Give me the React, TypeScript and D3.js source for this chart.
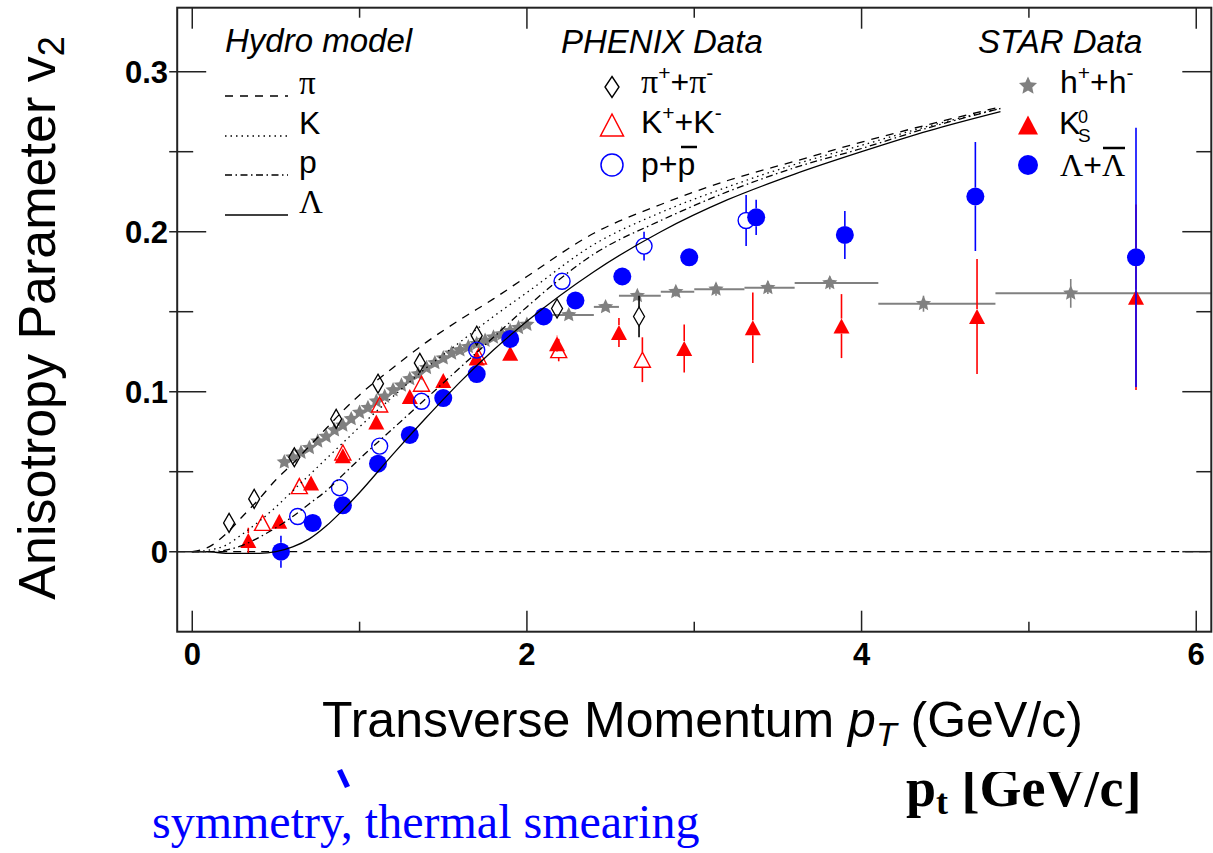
import React from "react";
import * as d3 from "d3";

// ---------- Hydro model curves ----------
const HYDRO_PT = [0, 0.1, 0.2, 0.3, 0.4, 0.5, 0.6, 0.7, 0.8, 0.9, 1.0, 1.2, 1.4, 1.6, 1.8, 2.0, 2.4, 2.8, 3.2, 3.6, 4.0, 4.4, 4.83];
const HYDRO_PI = [0, 0.003, 0.011, 0.022, 0.033, 0.045, 0.055, 0.066, 0.077, 0.088, 0.098, 0.115, 0.131, 0.145, 0.158, 0.172, 0.199, 0.217, 0.232, 0.244, 0.256, 0.267, 0.278];
const HYDRO_K = [0, 0.001, 0.004, 0.011, 0.019, 0.028, 0.038, 0.048, 0.058, 0.068, 0.078, 0.097, 0.115, 0.131, 0.147, 0.162, 0.192, 0.212, 0.228, 0.242, 0.254, 0.266, 0.277];
const HYDRO_P = [0, 0.0, 0.001, 0.004, 0.009, 0.015, 0.022, 0.030, 0.038, 0.048, 0.058, 0.077, 0.096, 0.115, 0.134, 0.153, 0.186, 0.207, 0.225, 0.240, 0.252, 0.265, 0.277];
const HYDRO_L = [0, 0.0, -0.001, -0.001, -0.001, 0.0, 0.003, 0.008, 0.016, 0.026, 0.037, 0.061, 0.084, 0.106, 0.126, 0.144, 0.175, 0.200, 0.220, 0.236, 0.250, 0.263, 0.275];

// ---------- PHENIX data ----------
const PHX_PI_PT = [0.22, 0.37, 0.61, 0.86, 1.11, 1.36, 1.70, 2.18, 2.67];
const PHX_PI_V2 = [0.018, 0.033, 0.059, 0.083, 0.105, 0.118, 0.135, 0.152, 0.147];
const PHX_PI_ERR = [0, 0, 0, 0, 0, 0.002, 0.003, 0.005, 0.013];

const PHX_K_PT = [0.42, 0.64, 0.90, 1.12, 1.37, 1.71, 2.19, 2.69];
const PHX_K_V2 = [0.018, 0.041, 0.062, 0.092, 0.105, 0.122, 0.126, 0.120];
const PHX_K_ERR = [0, 0, 0, 0.002, 0.003, 0.004, 0.007, 0.014];

const PHX_P_PT = [0.63, 0.88, 1.12, 1.37, 1.70, 2.21, 2.70, 3.31];
const PHX_P_V2 = [0.022, 0.040, 0.066, 0.094, 0.126, 0.169, 0.191, 0.207];
const PHX_P_ERR = [0, 0, 0, 0.002, 0.003, 0.005, 0.009, 0.016];

// ---------- STAR data ----------
const STAR_H_PT = [0.55, 0.60, 0.65, 0.70, 0.75, 0.80, 0.85, 0.90, 0.95, 1.00, 1.05, 1.10, 1.15, 1.20, 1.25, 1.30, 1.35, 1.40, 1.45, 1.50, 1.55, 1.60, 1.65, 1.70, 1.75, 1.80, 1.85, 1.90, 1.95, 2.00];
const STAR_H_V2 = [0.056, 0.059, 0.062, 0.065, 0.069, 0.072, 0.076, 0.079, 0.083, 0.087, 0.090, 0.094, 0.097, 0.101, 0.104, 0.108, 0.111, 0.115, 0.118, 0.121, 0.124, 0.126, 0.128, 0.130, 0.132, 0.134, 0.136, 0.138, 0.140, 0.142];
const STAR_HB_PT = [2.25, 2.47, 2.66, 2.89, 3.13, 3.44, 3.81, 4.37, 5.25];
const STAR_HB_V2 = [0.148, 0.153, 0.160, 0.1625, 0.164, 0.165, 0.168, 0.155, 0.1615];
const STAR_HB_ERR = [0.002, 0.002, 0.003, 0.003, 0.004, 0.004, 0.004, 0.005, 0.009];
const STAR_HB_LO = [2.1, 2.4, 2.55, 2.8, 3.0, 3.3, 3.6, 4.1, 4.8];
const STAR_HB_HI = [2.4, 2.55, 2.8, 3.0, 3.3, 3.6, 4.1, 4.8, 6.2];

const STAR_K0_PT = [0.335, 0.52, 0.71, 0.90, 1.10, 1.30, 1.50, 1.70, 1.90, 2.18, 2.55, 2.94, 3.35, 3.88, 4.69, 5.64];
const STAR_K0_V2 = [0.007, 0.019, 0.043, 0.060, 0.081, 0.097, 0.107, 0.121, 0.124, 0.130, 0.137, 0.127, 0.140, 0.141, 0.147, 0.159];
const STAR_K0_ERR = [0.008, 0.003, 0.003, 0.003, 0.003, 0.003, 0.003, 0.004, 0.004, 0.005, 0.009, 0.015, 0.022, 0.020, 0.036, 0.058];

const STAR_L_PT = [0.53, 0.72, 0.90, 1.11, 1.30, 1.50, 1.70, 1.90, 2.10, 2.29, 2.57, 2.97, 3.37, 3.90, 4.68, 5.64];
const STAR_L_V2 = [0.0, 0.018, 0.029, 0.055, 0.073, 0.096, 0.111, 0.133, 0.147, 0.157, 0.172, 0.184, 0.209, 0.198, 0.222, 0.184];
const STAR_L_ERR = [0.01, 0.003, 0.003, 0.003, 0.003, 0.003, 0.003, 0.003, 0.003, 0.004, 0.004, 0.005, 0.011, 0.015, 0.034, 0.081];

// ---------- axis ticks ----------
const X_TICK_LABELS = ["0", "2", "4", "6"];
const Y_TICK_LABELS = ["0", "0.1", "0.2", "0.3"];

const SANS = "'Liberation Sans', Arial, sans-serif";
const SERIF = "'Liberation Serif', 'Times New Roman', serif";
const RED = "#ff0000";
const BLUE = "#0000ff";
const GRAY = "#808080";

const diamondPath = (w: number, h: number) => `M0,${-h}L${w},0L0,${h}L${-w},0Z`;
const triPath = (w: number, h: number) => `M0,${-h / 2}L${w / 2},${h / 2}L${-w / 2},${h / 2}Z`;
const starPath = (ro: number, ri: number) => {
  const pts: [number, number][] = d3.range(10).map((i) => [(i * Math.PI) / 5, i % 2 === 0 ? ro : ri]);
  return d3.lineRadial().curve(d3.curveLinearClosed)(pts) as string;
};

export default function App() {
  const x = d3.scaleLinear().domain([-0.09, 6.09]).range([177.2, 1211.3]);
  const y = d3.scaleLinear().domain([-0.05, 0.34]).range([631.7, 7.7]);
  const [x0, x1] = x.range();
  const [y0, y1] = y.range();

  const line = d3
    .line<[number, number]>()
    .x((d) => x(d[0]))
    .y((d) => y(d[1]))
    .curve(d3.curveMonotoneX);
  const curve = (vals: number[]) => line(HYDRO_PT.map((p, i) => [p, vals[i]] as [number, number])) as string;

  const xTicks = x.ticks(6);
  const yTicks = y.ticks(8).filter((t) => t > -0.049);
  const isMajorX = (t: number) => Math.abs(t % 2) < 1e-6;
  const isMajorY = (t: number) => Math.abs(Math.round(t * 10) - t * 10) < 1e-6;

  const errBars = (pts: number[], vals: number[], errs: number[], color: string, hh: number, key: string) =>
    pts.map((p, i) => {
      if (!errs[i]) return null;
      const cx = x(p);
      const cy = y(vals[i]);
      const top = y(vals[i] + errs[i]);
      const bot = y(vals[i] - errs[i]);
      return (
        <g key={key + i}>
          {cy - hh > top && <line x1={cx} x2={cx} y1={top} y2={cy - hh} stroke={color} strokeWidth={1.6} />}
          {cy + hh < bot && <line x1={cx} x2={cx} y1={cy + hh} y2={bot} stroke={color} strokeWidth={1.6} />}
        </g>
      );
    });

  const dashPi = "8,7";
  const dashK = "1.5,4";
  const dashP = "7,3.5,1.5,3.5";

  const hydroLegend = [
    { label: "π", dash: dashPi, serif: true },
    { label: "K", dash: dashK, serif: false },
    { label: "p", dash: dashP, serif: false },
    { label: "Λ", dash: "", serif: true },
  ];
  const hydroRowY = [96, 136, 175, 215];
  const star = starPath(8, 3.8);
  const starLeg = starPath(9.5, 4.5);

  return (
    <svg width={1213} height={853} style={{ position: "absolute", left: 0, top: 0, background: "#fff" }}>
      <defs>
        <clipPath id="frameClip">
          <rect x={x0} y={y1} width={x1 - x0} height={y0 - y1} />
        </clipPath>
        <clipPath id="ptClip">
          <rect x={880} y={772} width={330} height={80} />
        </clipPath>
      </defs>
      <rect x={0} y={0} width={1213} height={853} fill="#fff" />

      <g clipPath="url(#frameClip)">
        <line x1={x0} x2={x1} y1={y(0)} y2={y(0)} stroke="#000" strokeWidth={1.3} strokeDasharray="8,6" />

        {/* STAR h+h- */}
        {STAR_HB_PT.map((p, i) => (
          <line key={"hb" + i} x1={x(STAR_HB_LO[i])} x2={x(STAR_HB_HI[i])} y1={y(STAR_HB_V2[i])} y2={y(STAR_HB_V2[i])} stroke={GRAY} strokeWidth={2} />
        ))}
        {errBars(STAR_HB_PT, STAR_HB_V2, STAR_HB_ERR, GRAY, 0, "hbe")}
        {STAR_H_PT.map((p, i) => (
          <path key={"hd" + i} d={star} transform={`translate(${x(p)},${y(STAR_H_V2[i])})`} fill={GRAY} />
        ))}
        {STAR_HB_PT.map((p, i) => (
          <path key={"hbs" + i} d={star} transform={`translate(${x(p)},${y(STAR_HB_V2[i])})`} fill={GRAY} />
        ))}

        {/* PHENIX pi */}
        {errBars(PHX_PI_PT, PHX_PI_V2, PHX_PI_ERR, "#000", 9.5, "pie")}
        {PHX_PI_PT.map((p, i) => (
          <path key={"pi" + i} d={diamondPath(5.5, 9.5)} transform={`translate(${x(p)},${y(PHX_PI_V2[i])})`} fill="none" stroke="#000" strokeWidth={1.3} />
        ))}

        {/* PHENIX K */}
        {errBars(PHX_K_PT, PHX_K_V2, PHX_K_ERR, RED, 7.5, "ke")}
        {PHX_K_PT.map((p, i) => (
          <path key={"k" + i} d={triPath(16, 15)} transform={`translate(${x(p)},${y(PHX_K_V2[i])})`} fill="none" stroke={RED} strokeWidth={1.4} />
        ))}

        {/* STAR K0s */}
        {errBars(STAR_K0_PT, STAR_K0_V2, STAR_K0_ERR, RED, 7.5, "k0e")}
        {STAR_K0_PT.map((p, i) => (
          <path key={"k0" + i} d={triPath(16, 15)} transform={`translate(${x(p)},${y(STAR_K0_V2[i])})`} fill={RED} />
        ))}

        {/* PHENIX p */}
        {errBars(PHX_P_PT, PHX_P_V2, PHX_P_ERR, BLUE, 8, "pe")}
        {PHX_P_PT.map((p, i) => (
          <circle key={"p" + i} cx={x(p)} cy={y(PHX_P_V2[i])} r={8} fill="none" stroke={BLUE} strokeWidth={1.4} />
        ))}

        {/* STAR Lambda */}
        {errBars(STAR_L_PT, STAR_L_V2, STAR_L_ERR, BLUE, 9, "le")}
        {STAR_L_PT.map((p, i) => (
          <circle key={"l" + i} cx={x(p)} cy={y(STAR_L_V2[i])} r={9} fill={BLUE} />
        ))}

        {/* Hydro curves */}
        <path d={curve(HYDRO_PI)} fill="none" stroke="#000" strokeWidth={1.3} strokeDasharray={dashPi} />
        <path d={curve(HYDRO_K)} fill="none" stroke="#000" strokeWidth={1.3} strokeDasharray={dashK} />
        <path d={curve(HYDRO_P)} fill="none" stroke="#000" strokeWidth={1.3} strokeDasharray={dashP} />
        <path d={curve(HYDRO_L)} fill="none" stroke="#000" strokeWidth={1.3} />
      </g>

      {/* frame */}
      <rect x={x0} y={y1} width={x1 - x0} height={y0 - y1} fill="none" stroke="#222" strokeWidth={2} />

      {xTicks.map((t) => {
        const len = isMajorX(t) ? 21 : 10;
        return (
          <g key={"xt" + t}>
            <line x1={x(t)} x2={x(t)} y1={y1} y2={y1 + len} stroke="#222" strokeWidth={1.5} />
            <line x1={x(t)} x2={x(t)} y1={y0} y2={y0 - len} stroke="#222" strokeWidth={1.5} />
          </g>
        );
      })}
      {X_TICK_LABELS.map((lab) => (
        <text key={"xl" + lab} x={x(+lab)} y={665} textAnchor="middle" fontFamily={SANS} fontWeight="bold" fontSize={31} fill="#000">
          {lab}
        </text>
      ))}

      {yTicks.map((t) => {
        const major = isMajorY(t);
        return (
          <g key={"yt" + t}>
            <line x1={x0 - 8} x2={x0 + (major ? 29 : 16)} y1={y(t)} y2={y(t)} stroke="#222" strokeWidth={1.5} />
            <line x1={x1} x2={x1 - (major ? 29 : 15)} y1={y(t)} y2={y(t)} stroke="#222" strokeWidth={1.5} />
          </g>
        );
      })}
      {Y_TICK_LABELS.map((lab) => (
        <text key={"yl" + lab} x={168} y={y(+lab) + 11} textAnchor="end" fontFamily={SANS} fontWeight="bold" fontSize={31} fill="#000">
          {lab}
        </text>
      ))}

      {/* axis titles */}
      <text transform="translate(55,318) rotate(-90)" textAnchor="middle" fontFamily={SANS} fontSize={52} fill="#000">
        Anisotropy Parameter v<tspan fontSize={36} dy={9}>2</tspan>
      </text>
      <text x={322} y={737} fontFamily={SANS} fontSize={50} fill="#000">
        Transverse Momentum <tspan fontStyle="italic">p</tspan>
        <tspan fontStyle="italic" fontSize={34} dy={9}>T</tspan>
        <tspan dy={-9}> (GeV/c)</tspan>
      </text>

      {/* Hydro legend */}
      <text x={225} y={52} fontFamily={SANS} fontStyle="italic" fontSize={33} fill="#000">Hydro model</text>
      {hydroLegend.map((h, i) => (
        <g key={"hl" + i}>
          <line x1={225} x2={288} y1={hydroRowY[i]} y2={hydroRowY[i]} stroke="#000" strokeWidth={1.3} strokeDasharray={h.dash || undefined} />
          <text x={299} y={hydroRowY[i] - 2} fontFamily={h.serif ? SERIF : SANS} fontSize={h.serif ? 33 : 32} fill="#000">
            {h.label}
          </text>
        </g>
      ))}

      {/* PHENIX legend */}
      <text x={561} y={53} fontFamily={SANS} fontStyle="italic" fontSize={33} fill="#000">PHENIX Data</text>
      <path d={diamondPath(7, 10.5)} transform="translate(612,87)" fill="none" stroke="#000" strokeWidth={1.4} />
      <text x={641} y={93} fontFamily={SANS} fontSize={32} fill="#000">
        <tspan fontFamily={SERIF} fontSize={34}>π</tspan>
        <tspan fontSize={21} dy={-13}>+</tspan>
        <tspan dy={13}>+</tspan>
        <tspan fontFamily={SERIF} fontSize={34}>π</tspan>
        <tspan fontSize={21} dy={-13}>-</tspan>
      </text>
      <path d={triPath(23, 22)} transform="translate(612,125)" fill="none" stroke={RED} strokeWidth={1.5} />
      <text x={641} y={133} fontFamily={SANS} fontSize={32} fill="#000">
        K<tspan fontSize={21} dy={-13}>+</tspan>
        <tspan dy={13}>+K</tspan>
        <tspan fontSize={21} dy={-13}>-</tspan>
      </text>
      <circle cx={612} cy={165} r={11} fill="none" stroke={BLUE} strokeWidth={1.5} />
      <text x={641} y={175} fontFamily={SANS} fontSize={32} fill="#000">p+p</text>
      <line x1={681} x2={697} y1={147} y2={147} stroke="#000" strokeWidth={2.5} />

      {/* STAR legend */}
      <text x={978} y={53} fontFamily={SANS} fontStyle="italic" fontSize={33} fill="#000">STAR Data</text>
      <path d={starLeg} transform="translate(1028,86)" fill={GRAY} />
      <text x={1060} y={93} fontFamily={SANS} fontSize={32} fill="#000">
        h<tspan fontSize={21} dy={-13}>+</tspan>
        <tspan dy={13}>+h</tspan>
        <tspan fontSize={21} dy={-13}>-</tspan>
      </text>
      <path d={triPath(20, 19)} transform="translate(1028,125)" fill={RED} />
      <text x={1059} y={134} fontFamily={SANS} fontSize={32} fill="#000">K</text>
      <text x={1078} y={123} fontFamily={SANS} fontSize={18} fill="#000">0</text>
      <text x={1078} y={142} fontFamily={SANS} fontSize={19} fill="#000">S</text>
      <circle cx={1028} cy={165} r={10} fill={BLUE} />
      <text x={1060} y={176} fontFamily={SERIF} fontSize={32} fill="#000">
        Λ<tspan fontFamily={SANS} fontSize={32}>+</tspan>Λ
      </text>
      <line x1={1103} x2={1125} y1={148} y2={148} stroke="#000" strokeWidth={2.5} />

      {/* extra annotations below the chart */}
      <path d="M337,771 L342,769 L350,786 L345,788 Z" fill={BLUE} />
      <g clipPath="url(#ptClip)">
        <text x={906} y={806} fontFamily={SERIF} fontWeight="bold" fontSize={54} fill="#000">
          p<tspan fontSize={36} dy={8}>t</tspan>
          <tspan dy={-8}> [GeV/c]</tspan>
        </text>
      </g>
      <text x={152} y={838} fontFamily={SERIF} fontSize={48} fill={BLUE}>
        symmetry, thermal smearing
      </text>
    </svg>
  );
}
